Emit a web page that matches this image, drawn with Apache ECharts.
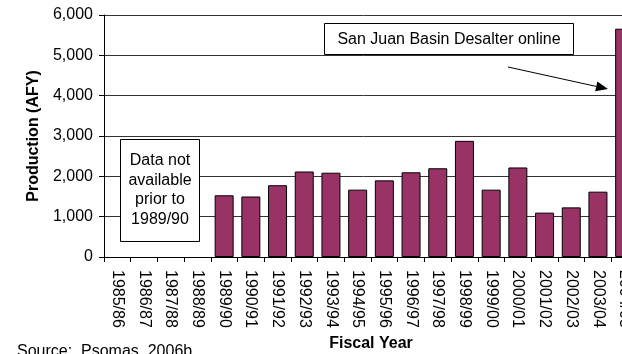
<!DOCTYPE html>
<html>
<head>
<meta charset="utf-8">
<script src="https://cdn.jsdelivr.net/npm/echarts@6/dist/echarts.min.js"></script>
<style>
  html, body { margin: 0; padding: 0; background: #fff; }
  #chart { width: 622px; height: 354px; }
</style>
</head>
<body>
<div id="chart"></div>
<script>
const fiscalYears = ['1985/86', '1986/87', '1987/88', '1988/89', '1989/90', '1990/91', '1991/92',
  '1992/93', '1993/94', '1994/95', '1995/96', '1996/97', '1997/98', '1998/99', '1999/00',
  '2000/01', '2001/02', '2002/03', '2003/04', '2004/05']
// AFY, no data before 1989/90
const production = [null, null, null, null, 1530, 1500, 1780, 2120, 2090, 1670, 1900, 2100,
  2200, 2880, 1670, 2220, 1100, 1230, 1620, 5660]
const yTicks = [0, 1000, 2000, 3000, 4000, 5000, 6000]

const font = 'Arial, "Liberation Sans", sans-serif'
const myChart = echarts.init(document.getElementById('chart'))

// arrow from the desalter note to the 2004/05 bar
const arrowFrom = [508, 67]
const arrowTo = [608, 89]
const dx = arrowTo[0] - arrowFrom[0], dy = arrowTo[1] - arrowFrom[1]
const len = Math.sqrt(dx * dx + dy * dy)
const ux = dx / len, uy = dy / len
const headLen = 12, headHalf = 5
const baseX = arrowTo[0] - ux * headLen, baseY = arrowTo[1] - uy * headLen

let option = {
  animation: false,
  backgroundColor: '#fff',
  grid: {
    left: 104, top: 15, width: 534, height: 242,
    containLabel: false,
    outerBoundsMode: 'none'
  },
  xAxis: {
    type: 'category',
    data: fiscalYears,
    name: 'Fiscal Year',
    nameLocation: 'middle',
    nameGap: 78,
    nameTextStyle: { fontFamily: font, fontSize: 16, fontWeight: 'bold', color: '#000' },
    axisLine: { lineStyle: { color: '#000', width: 1 } },
    axisTick: { show: true, length: 5, lineStyle: { color: '#000' } },
    axisLabel: { rotate: -90, margin: 13, fontFamily: font, fontSize: 16, color: '#000', interval: 0 }
  },
  yAxis: {
    type: 'value',
    min: 0, max: 6000, interval: 1000,
    name: 'Production (AFY)',
    nameLocation: 'middle',
    nameGap: 58,
    nameTextStyle: { fontFamily: font, fontSize: 16, fontWeight: 'bold', color: '#000' },
    axisLine: { show: true, lineStyle: { color: '#000', width: 1 } },
    axisTick: { show: true, length: 5, lineStyle: { color: '#000' } },
    axisLabel: {
      margin: 11, fontFamily: font, fontSize: 16, color: '#000',
      formatter: v => yTicks.includes(v) ? v.toLocaleString('en-US') : ''
    },
    splitLine: { show: true, lineStyle: { color: '#333', width: 1 } }
  },
  series: [{
    type: 'bar',
    data: production,
    barWidth: 19,
    itemStyle: { color: '#993366', borderColor: '#000', borderWidth: 1 }
  }],
  graphic: [
    {
      type: 'rect', z: 100,
      shape: { x: 120.5, y: 139.5, width: 79, height: 102 },
      style: { fill: '#fff', stroke: '#000', lineWidth: 1 }
    },
    {
      type: 'text', z: 101,
      style: {
        text: 'Data not\navailable\nprior to\n1989/90',
        x: 160, y: 190,
        align: 'center', textAlign: 'center',
        verticalAlign: 'middle', textVerticalAlign: 'middle',
        lineHeight: 19.5,
        font: '16px ' + font, fill: '#000'
      }
    },
    {
      type: 'rect', z: 100,
      shape: { x: 324.5, y: 23.5, width: 249, height: 31 },
      style: { fill: '#fff', stroke: '#000', lineWidth: 1 }
    },
    {
      type: 'text', z: 101,
      style: {
        text: 'San Juan Basin Desalter online',
        x: 449, y: 39.5,
        align: 'center', textAlign: 'center',
        verticalAlign: 'middle', textVerticalAlign: 'middle',
        font: '16px ' + font, fill: '#000'
      }
    },
    {
      type: 'line', z: 100,
      shape: { x1: arrowFrom[0], y1: arrowFrom[1], x2: baseX, y2: baseY },
      style: { stroke: '#000', lineWidth: 1 }
    },
    {
      type: 'polygon', z: 100,
      shape: { points: [
        arrowTo,
        [baseX - uy * headHalf, baseY + ux * headHalf],
        [baseX + uy * headHalf, baseY - ux * headHalf]
      ] },
      style: { fill: '#000' }
    },
    {
      type: 'text', z: 100,
      style: {
        text: 'Source:  Psomas, 2006b',
        x: 17, y: 344,
        font: '16px ' + font, fill: '#000'
      }
    }
  ]
}
myChart.setOption(option)
</script>
</body>
</html>
